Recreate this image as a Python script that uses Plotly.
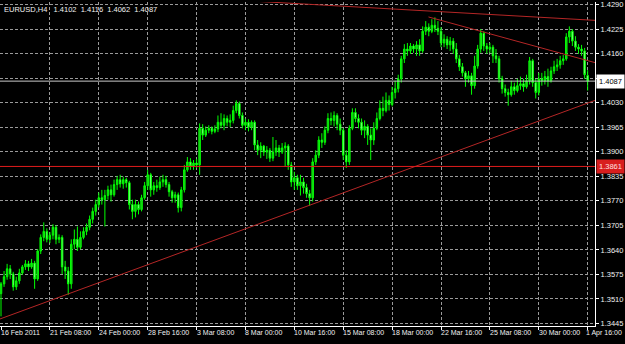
import plotly.graph_objects as go

symbol = "EURUSD,H4"

opens = [
    1.3524, 1.3550, 1.3569, 1.3590, 1.3576, 1.3542, 1.3558, 1.3579, 1.3595, 1.3603, 1.3595, 1.3605, 1.3563,
    1.3637, 1.3673, 1.3689, 1.3668, 1.3679, 1.3700, 1.3668, 1.3673, 1.3595, 1.3584, 1.3550, 1.3655, 1.3668,
    1.3647, 1.3673, 1.3689, 1.3700, 1.3721, 1.3742, 1.3760, 1.3778, 1.3773, 1.3784, 1.3799, 1.3786, 1.3813,
    1.3826, 1.3815, 1.3826, 1.3818, 1.3760, 1.3742, 1.3760, 1.3747, 1.3778, 1.3810, 1.3839, 1.3799, 1.3810,
    1.3805, 1.3820, 1.3826, 1.3813, 1.3794, 1.3778, 1.3786, 1.3752, 1.3799, 1.3852, 1.3873, 1.3862, 1.3870,
    1.3865, 1.3962, 1.3944, 1.3957, 1.3962, 1.3954, 1.3960, 1.3978, 1.3970, 1.3988, 1.3978, 1.3983, 1.4009,
    1.4028, 1.3996, 1.3970, 1.3978, 1.3965, 1.3978, 1.3918, 1.3904, 1.3915, 1.3899, 1.3904, 1.3883, 1.3899,
    1.3910, 1.3899, 1.3910, 1.3915, 1.3865, 1.3820, 1.3831, 1.3810, 1.3820, 1.3805, 1.3789, 1.3778, 1.3873,
    1.3891, 1.3931, 1.3925, 1.3957, 1.3988, 1.3983, 1.3996, 1.3973, 1.3957, 1.3891, 1.3873, 1.3962, 1.4004,
    1.3988, 1.3978, 1.3957, 1.3967, 1.3944, 1.3931, 1.3962, 1.3988, 1.4015, 1.4009, 1.4036, 1.4025, 1.4057,
    1.4067, 1.4093, 1.4146, 1.4172, 1.4167, 1.4180, 1.4172, 1.4183, 1.4167, 1.4219, 1.4230, 1.4219, 1.4235,
    1.4227, 1.4219, 1.4188, 1.4198, 1.4183, 1.4193, 1.4172, 1.4146, 1.4125, 1.4109, 1.4093, 1.4101, 1.4075,
    1.4127, 1.4172, 1.4214, 1.4180, 1.4172, 1.4177, 1.4154, 1.4146, 1.4093, 1.4067, 1.4057, 1.4051, 1.4072,
    1.4062, 1.4075, 1.4080, 1.4072, 1.4088, 1.4141, 1.4083, 1.4057, 1.4093, 1.4088, 1.4099, 1.4088, 1.4114,
    1.4125, 1.4130, 1.4141, 1.4146, 1.4204, 1.4219, 1.4193, 1.4177, 1.4172, 1.4167, 1.4102,
]
highs = [
    1.3555, 1.3584, 1.3603, 1.3600, 1.3582, 1.3569, 1.3590, 1.3600, 1.3613, 1.3611, 1.3616, 1.3611, 1.3642,
    1.3681, 1.3713, 1.3697, 1.3687, 1.3708, 1.3705, 1.3681, 1.3679, 1.3611, 1.3595, 1.3668, 1.3694, 1.3702,
    1.3689, 1.3700, 1.3710, 1.3731, 1.3752, 1.3773, 1.3792, 1.3799, 1.3799, 1.3810, 1.3813, 1.3826, 1.3836,
    1.3839, 1.3834, 1.3831, 1.3823, 1.3773, 1.3773, 1.3768, 1.3786, 1.3820, 1.3852, 1.3844, 1.3820, 1.3826,
    1.3834, 1.3839, 1.3836, 1.3820, 1.3799, 1.3794, 1.3792, 1.3807, 1.3865, 1.3886, 1.3883, 1.3878, 1.3881,
    1.3975, 1.3973, 1.3967, 1.3970, 1.3967, 1.3970, 1.3996, 1.4002, 1.3999, 1.3996, 1.3999, 1.4022, 1.4036,
    1.4033, 1.4004, 1.3988, 1.3986, 1.3983, 1.3983, 1.3931, 1.3925, 1.3918, 1.3915, 1.3910, 1.3939, 1.3931,
    1.3918, 1.3923, 1.3925, 1.3920, 1.3873, 1.3847, 1.3839, 1.3839, 1.3831, 1.3815, 1.3799, 1.3883, 1.3904,
    1.3941, 1.3949, 1.3967, 1.4002, 1.4004, 1.4007, 1.4002, 1.3988, 1.3962, 1.3904, 1.3970, 1.4015, 1.4015,
    1.3999, 1.3988, 1.3983, 1.3973, 1.3962, 1.3978, 1.4004, 1.4036, 1.4046, 1.4057, 1.4049, 1.4072, 1.4088,
    1.4104, 1.4154, 1.4185, 1.4188, 1.4188, 1.4185, 1.4193, 1.4198, 1.4232, 1.4246, 1.4240, 1.4251, 1.4256,
    1.4246, 1.4230, 1.4211, 1.4206, 1.4204, 1.4201, 1.4188, 1.4156, 1.4135, 1.4114, 1.4114, 1.4109, 1.4154,
    1.4183, 1.4225, 1.4219, 1.4188, 1.4188, 1.4183, 1.4172, 1.4154, 1.4101, 1.4078, 1.4067, 1.4088, 1.4083,
    1.4093, 1.4099, 1.4093, 1.4104, 1.4151, 1.4146, 1.4093, 1.4109, 1.4109, 1.4114, 1.4120, 1.4125, 1.4141,
    1.4146, 1.4154, 1.4156, 1.4214, 1.4232, 1.4225, 1.4206, 1.4185, 1.4183, 1.4175, 1.4116,
]
lows = [
    1.3464, 1.3542, 1.3561, 1.3563, 1.3532, 1.3534, 1.3550, 1.3574, 1.3587, 1.3584, 1.3590, 1.3537, 1.3558,
    1.3629, 1.3663, 1.3660, 1.3658, 1.3668, 1.3655, 1.3658, 1.3576, 1.3563, 1.3521, 1.3537, 1.3642, 1.3637,
    1.3642, 1.3668, 1.3679, 1.3692, 1.3710, 1.3731, 1.3752, 1.3760, 1.3702, 1.3773, 1.3768, 1.3781, 1.3799,
    1.3805, 1.3802, 1.3805, 1.3747, 1.3721, 1.3726, 1.3734, 1.3742, 1.3773, 1.3799, 1.3781, 1.3786, 1.3794,
    1.3799, 1.3807, 1.3805, 1.3781, 1.3765, 1.3765, 1.3739, 1.3742, 1.3792, 1.3847, 1.3852, 1.3852, 1.3857,
    1.3839, 1.3931, 1.3939, 1.3949, 1.3946, 1.3949, 1.3952, 1.3962, 1.3957, 1.3967, 1.3965, 1.3975, 1.4002,
    1.3988, 1.3962, 1.3957, 1.3954, 1.3957, 1.3904, 1.3891, 1.3883, 1.3889, 1.3881, 1.3873, 1.3875, 1.3889,
    1.3886, 1.3894, 1.3860, 1.3852, 1.3807, 1.3799, 1.3799, 1.3784, 1.3789, 1.3778, 1.3757, 1.3768, 1.3865,
    1.3883, 1.3910, 1.3918, 1.3949, 1.3970, 1.3967, 1.3957, 1.3944, 1.3878, 1.3857, 1.3865, 1.3957, 1.3978,
    1.3962, 1.3944, 1.3936, 1.3918, 1.3878, 1.3918, 1.3957, 1.3983, 1.3994, 1.4004, 1.4009, 1.4020, 1.4041,
    1.4057, 1.4083, 1.4135, 1.4154, 1.4159, 1.4162, 1.4154, 1.4154, 1.4162, 1.4209, 1.4206, 1.4214, 1.4217,
    1.4209, 1.4177, 1.4177, 1.4172, 1.4167, 1.4159, 1.4135, 1.4114, 1.4099, 1.4072, 1.4083, 1.4051, 1.4067,
    1.4120, 1.4162, 1.4167, 1.4159, 1.4162, 1.4135, 1.4135, 1.4083, 1.4054, 1.4046, 1.4022, 1.4046, 1.4051,
    1.4057, 1.4064, 1.4059, 1.4067, 1.4078, 1.4072, 1.4041, 1.4049, 1.4075, 1.4078, 1.4072, 1.4083, 1.4106,
    1.4114, 1.4120, 1.4130, 1.4141, 1.4188, 1.4180, 1.4167, 1.4159, 1.4154, 1.4093, 1.4062,
]
closes = [
    1.3550, 1.3569, 1.3590, 1.3576, 1.3542, 1.3558, 1.3579, 1.3595, 1.3603, 1.3595, 1.3605, 1.3563, 1.3637,
    1.3673, 1.3689, 1.3668, 1.3679, 1.3700, 1.3668, 1.3673, 1.3595, 1.3584, 1.3550, 1.3655, 1.3668, 1.3647,
    1.3673, 1.3689, 1.3700, 1.3721, 1.3742, 1.3760, 1.3778, 1.3773, 1.3784, 1.3799, 1.3786, 1.3813, 1.3826,
    1.3815, 1.3826, 1.3818, 1.3760, 1.3742, 1.3760, 1.3747, 1.3778, 1.3810, 1.3839, 1.3799, 1.3810, 1.3805,
    1.3820, 1.3826, 1.3813, 1.3794, 1.3778, 1.3786, 1.3752, 1.3799, 1.3852, 1.3873, 1.3862, 1.3870, 1.3865,
    1.3962, 1.3944, 1.3957, 1.3962, 1.3954, 1.3960, 1.3978, 1.3970, 1.3988, 1.3978, 1.3983, 1.4009, 1.4028,
    1.3996, 1.3970, 1.3978, 1.3965, 1.3978, 1.3918, 1.3904, 1.3915, 1.3899, 1.3904, 1.3883, 1.3899, 1.3910,
    1.3899, 1.3910, 1.3915, 1.3865, 1.3820, 1.3831, 1.3810, 1.3820, 1.3805, 1.3789, 1.3778, 1.3873, 1.3891,
    1.3931, 1.3925, 1.3957, 1.3988, 1.3983, 1.3996, 1.3973, 1.3957, 1.3891, 1.3873, 1.3962, 1.4004, 1.3988,
    1.3978, 1.3957, 1.3967, 1.3944, 1.3931, 1.3962, 1.3988, 1.4015, 1.4009, 1.4036, 1.4025, 1.4057, 1.4067,
    1.4093, 1.4146, 1.4172, 1.4167, 1.4180, 1.4172, 1.4183, 1.4167, 1.4219, 1.4230, 1.4219, 1.4235, 1.4227,
    1.4219, 1.4188, 1.4198, 1.4183, 1.4193, 1.4172, 1.4146, 1.4125, 1.4109, 1.4093, 1.4101, 1.4075, 1.4127,
    1.4172, 1.4214, 1.4180, 1.4172, 1.4177, 1.4154, 1.4146, 1.4093, 1.4067, 1.4057, 1.4051, 1.4072, 1.4062,
    1.4075, 1.4080, 1.4072, 1.4088, 1.4141, 1.4083, 1.4057, 1.4093, 1.4088, 1.4099, 1.4088, 1.4114, 1.4125,
    1.4130, 1.4141, 1.4146, 1.4204, 1.4219, 1.4193, 1.4177, 1.4172, 1.4167, 1.4104, 1.4087,
]

time_labels = ["16 Feb 2011", "21 Feb 08:00", "24 Feb 00:00", "28 Feb 16:00", "3 Mar 08:00",
               "8 Mar 00:00", "10 Mar 16:00", "15 Mar 08:00", "18 Mar 00:00", "22 Mar 16:00",
               "25 Mar 08:00", "30 Mar 00:00", "1 Apr 16:00"]
time_label_bars = [0, 16, 32, 48, 64, 80, 96, 112, 128, 144, 160, 176, 192]

price_ticks = [1.4290, 1.4225, 1.4160, 1.4095, 1.4030, 1.3965, 1.3900, 1.3835,
               1.3770, 1.3705, 1.3640, 1.3575, 1.3510, 1.3445]
# the 1.4095 label is hidden behind the bid-price box in the reference
price_tick_text = ["1.4290", "1.4225", "1.4160", "", "1.4030", "1.3965", "1.3900", "1.3835",
                   "1.3770", "1.3705", "1.3640", "1.3575", "1.3510", "1.3445"]

# trend lines (bar index, price)
support_bars = [-0.33, 194.4]
support_prices = [1.3457, 1.4036]
resist_bars = [80, 194.4]
resist_prices = [1.4300, 1.4248]
mid_bars = [139.9, 194.4]
mid_prices = [1.4257, 1.4136]
hline_level = 1.3861

bars = list(range(len(closes)))
x_range = [-0.327, 194.4]
y_range = [1.34384, 1.42966]

FONT = "Liberation Sans, Arial, sans-serif"
FS = 7
TXT = "#f0f0f0"
GRID = "#9a9a9a"
TL = "#b42626"

fig = go.Figure()

fig.add_trace(go.Candlestick(
    x=bars, open=opens, high=highs, low=lows, close=closes,
    increasing=dict(line=dict(color="#00ff00", width=1), fillcolor="#22b822"),
    decreasing=dict(line=dict(color="#00ff00", width=1), fillcolor="#b8ffb8"),
    whiskerwidth=0, hoverinfo="skip",
))

for bx, py, col in [(support_bars, support_prices, TL), (resist_bars, resist_prices, TL),
                    (mid_bars, mid_prices, TL), (x_range, [hline_level, hline_level], "#e01c1c"),
                    (x_range, [closes[-1], closes[-1]], "#c8c8c8")]:
    fig.add_trace(go.Scatter(x=bx, y=py, mode="lines", line=dict(color=col, width=1),
                             hoverinfo="skip"))

annotations = []
for k, (b, t) in enumerate(zip(time_label_bars, time_labels)):
    last = k == len(time_labels) - 1
    annotations.append(dict(x=b, y=0, xref="x", yref="paper", text=t, showarrow=False,
                            xanchor="left", yanchor="top", xshift=-3 if last else -1, yshift=-2,
                            borderpad=0,
                            font=dict(family=FONT, size=FS, color=TXT)))

title = "%s&nbsp;&nbsp; %.4f&nbsp; %.4f&nbsp; %.4f&nbsp; %.4f" % (
    symbol, opens[-1], highs[-1], lows[-1], closes[-1])
annotations.append(dict(x=0, y=1, xref="paper", yref="paper", text=title, showarrow=False,
                        xanchor="left", yanchor="top", xshift=2, yshift=-1,
                        font=dict(family=FONT, size=7.5, color=TXT)))

annotations.append(dict(x=1, y=closes[-1], xref="paper", yref="y", text="%.4f" % closes[-1],
                        showarrow=False, xanchor="left", yanchor="middle", xshift=1,
                        bgcolor="#ffffff", borderpad=2,
                        font=dict(family=FONT, size=7.5, color="#000000")))
annotations.append(dict(x=1, y=hline_level, xref="paper", yref="y", text="%.4f" % hline_level,
                        showarrow=False, xanchor="left", yanchor="middle", xshift=1,
                        bgcolor="#d81e1e", borderpad=2,
                        font=dict(family=FONT, size=7.5, color="#ffe0e0")))

fig.update_layout(
    width=625, height=344,
    margin=dict(l=0, r=30, t=0, b=18),
    paper_bgcolor="#000000", plot_bgcolor="#000000",
    showlegend=False, boxgap=0.3,
    annotations=annotations,
    xaxis=dict(range=x_range, tickvals=time_label_bars, showticklabels=False,
               ticks="outside", ticklen=3, tickcolor="#ffffff",
               showgrid=True, gridcolor=GRID, griddash="3px,2px", gridwidth=1,
               showline=True, linecolor="#ffffff", linewidth=1, zeroline=False,
               rangeslider=dict(visible=False), fixedrange=True),
    yaxis=dict(range=y_range, side="right", tickvals=price_ticks,
               ticktext=price_tick_text, ticklabeloverflow="allow",
               ticks="outside", ticklen=3, tickcolor="#ffffff",
               tickfont=dict(family=FONT, size=7.5, color=TXT),
               showgrid=True, gridcolor=GRID, griddash="3px,2px", gridwidth=1,
               showline=True, linecolor="#ffffff", linewidth=1, zeroline=False,
               fixedrange=True),
)

fig.write_html("out.html")
